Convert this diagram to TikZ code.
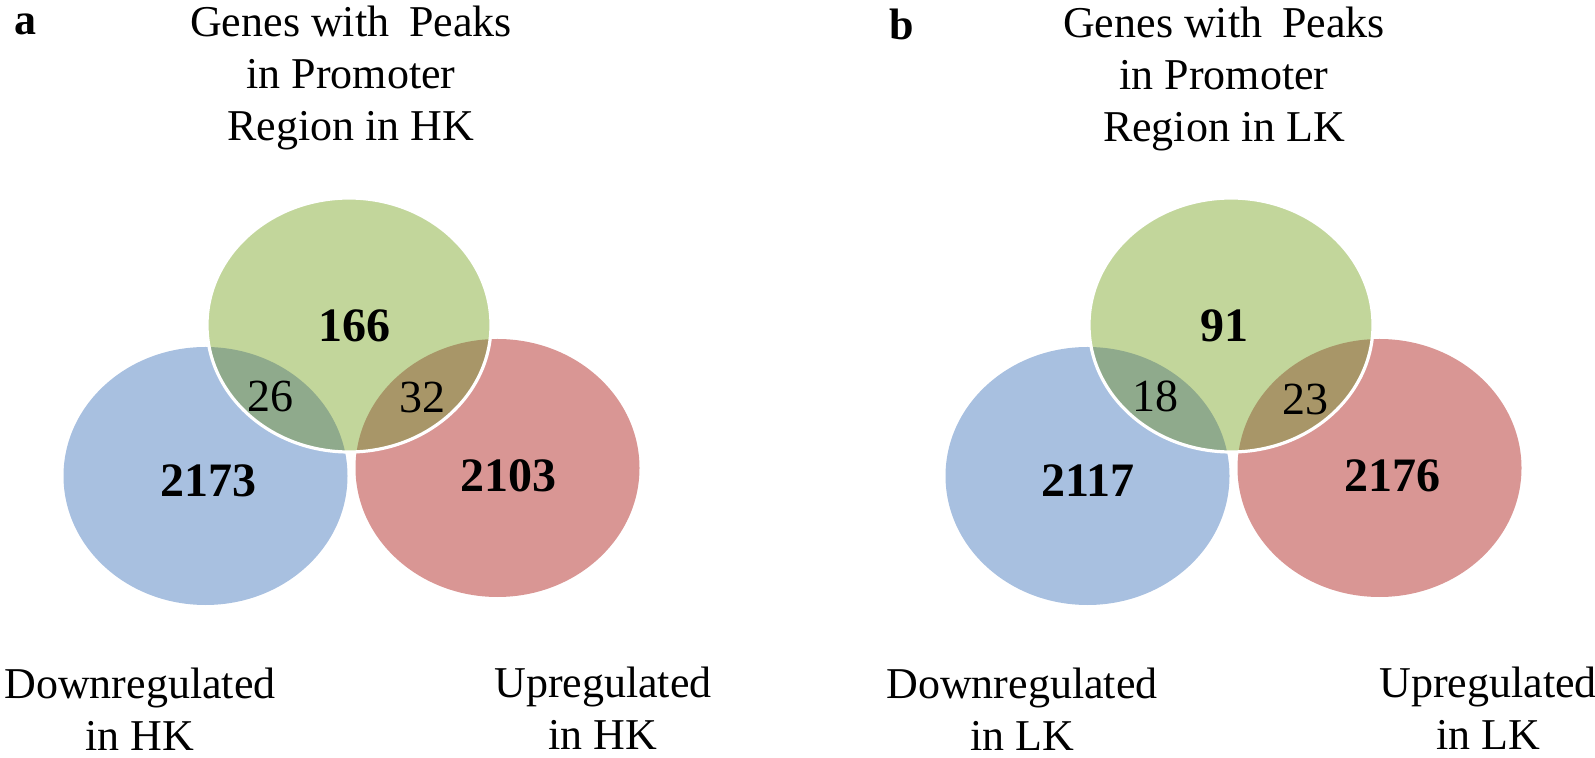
\documentclass[tikz,border=0pt]{standalone}
\usepackage{fontspec}
\setmainfont{Liberation Serif}
\definecolor{vgreen}{HTML}{C2D69B}
\definecolor{vblue}{HTML}{A8C0E0}
\definecolor{vred}{HTML}{D99694}
\definecolor{vgb}{HTML}{8FAA8C}
\definecolor{vgr}{HTML}{A89668}
\tikzset{
  lbl/.style={inner sep=0pt, align=center, font=\fontsize{22}{26}\selectfont},
  numb/.style={inner sep=0pt, font=\fontsize{24}{28}\selectfont\bfseries},
  nums/.style={inner sep=0pt, font=\fontsize{23}{28}\selectfont},
  panel/.style={inner sep=0pt, font=\fontsize{22}{27}\selectfont\bfseries},
  rx/.style={x radius=71pt, y radius=64.5pt},
  gx/.style={x radius=71pt, y radius=63.5pt},
}
\begin{document}
\begin{tikzpicture}[x=0.5pt,y=-0.5pt]
\useasboundingbox (0,0) rectangle (1595,758);
\foreach \dx in {0,882}{
\begin{scope}[xshift=\dx*0.5pt]
  \fill[vblue] (205.5,476) ellipse [rx];
  \fill[vred] (497.5,468) ellipse [rx];
  \fill[vgreen] (349,325) ellipse [gx];
  \begin{scope}
    \clip (349,325) ellipse [gx];
    \fill[vgb] (205.5,476) ellipse [rx];
    \fill[vgr] (497.5,468) ellipse [rx];
  \end{scope}
  \draw[white, line width=1.6pt] (349,325) ellipse [gx];
\end{scope}
}
% panel a
\node[panel] (pa) at (25,24) {a};
\node[lbl] (ta) at (351,78) {Genes with\hspace{0.45em}Peaks\\in Promoter\\Region in HK};
\node[numb] (na1) at (354,326) {166};
\node[nums] (na2) at (270,396) {26};
\node[nums] (na3) at (422,397) {32};
\node[numb] (na4) at (208,481) {2173};
\node[numb] (na5) at (508,476) {2103};
\node[lbl] (da) at (140,709) {Downregulated\\in HK};
\node[lbl] (ua) at (603,708) {Upregulated\\in HK};
% panel b
\node[panel] (pb) at (902,24) {b};
\node[lbl] (tb) at (1224,79) {Genes with\hspace{0.45em}Peaks\\in Promoter\\Region in LK};
\node[numb] (nb1) at (1224,326) {91};
\node[nums] (nb2) at (1155,396) {18};
\node[nums] (nb3) at (1305,399) {23};
\node[numb] (nb4) at (1088,481) {2117};
\node[numb] (nb5) at (1392,476) {2176};
\node[lbl] (db) at (1022,709) {Downregulated\\in LK};
\node[lbl] (ub) at (1488,708) {Upregulated\\in LK};
\end{tikzpicture}
\end{document}
